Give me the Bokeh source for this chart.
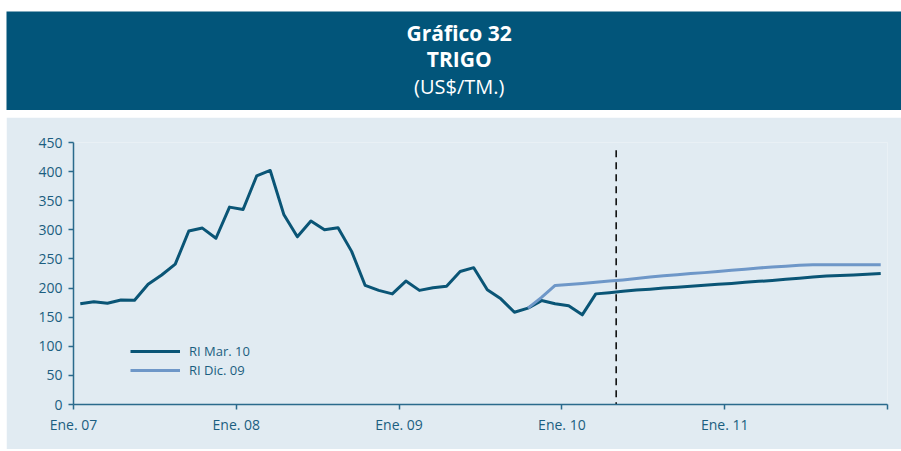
from bokeh.plotting import figure
from bokeh.layouts import column, row
from bokeh.models import FixedTicker, Legend, LegendItem, Spacer, Range1d
from bokeh.embed import file_html
from bokeh.resources import INLINE
from bokeh.core.properties import value

# ---------------- data ----------------
# monthly, index 0 = Ene. 2007 ... 59 = Dic. 2011
ri_mar10 = [173, 176.5, 174, 179.5, 179, 206.5, 222.5, 241, 298, 303, 285.5, 339,
            335, 392.5, 402, 326.5, 288, 315, 300, 303.5, 263, 204.5, 196, 190,
            212, 196, 200.5, 203, 228.5, 235, 197, 181.5, 158.5, 165.5, 178.5, 173,
            169.5, 154, 190, 192, 194.5, 196.5, 198, 200, 201.5, 203, 205, 206.5,
            208, 210, 211.5, 213, 215, 217, 219, 220.5, 221.5, 222.5, 223.7, 225]
ri_dic09_start = 33  # Oct. 2009
ri_dic09 = [165.5, 184, 204.5, 206, 208, 210, 212, 214, 216.5, 219, 221, 223, 225,
            226.5, 228.5, 230.5, 232.5, 234.5, 236, 237.5, 239, 240, 240, 240, 240,
            240, 240]
forecast_start = 40  # May. 2010 (dashed line)
series_names = ["RI Mar. 10", "RI Dic. 09"]
x_ticks = [0, 12, 24, 36, 48, 60]
x_tick_labels = ["Ene. 07", "Ene. 08", "Ene. 09", "Ene. 10", "Ene. 11", ""]
y_ticks = [0, 50, 100, 150, 200, 250, 300, 350, 400, 450]
title_lines = ["Gráfico 32", "TRIGO", "(US$/TM.)"]

# ---------------- styles ----------------
HEADER = "#02557A"
PANEL = "#E1EBF2"
DARK = "#0A5576"
LIGHT = "#6E97C8"
AXIS = "#2A6A8C"
TEXT = "#1B5E80"
FONT = "Open Sans"

LEFT_PAD = 6
W = 901 - LEFT_PAD
BL, BR = 67, 14   # chart frame borders

# header: frame covers the whole band, x in page pixels
h = figure(width=W, height=99, x_range=Range1d(LEFT_PAD, 901), y_range=Range1d(0, 99),
           output_backend="svg", toolbar_location=None, min_border=0)
h.axis.visible = False
h.grid.visible = False
h.outline_line_color = None
h.background_fill_color = HEADER
h.border_fill_color = HEADER
cx = 458.7
h.text(x=[cx], y=[78], text=[title_lines[0]], text_align="center", text_baseline="alphabetic",
       text_font=value(FONT), text_font_style="bold", text_font_size="21px", text_color="white")
h.text(x=[cx], y=[51.5], text=[title_lines[1]], text_align="center", text_baseline="alphabetic",
       text_font=value(FONT), text_font_style="bold", text_font_size="21px", text_color="white")
h.text(x=[cx], y=[24], text=[title_lines[2]], text_align="center", text_baseline="alphabetic",
       text_font=value(FONT), text_font_size="20px", text_color="white")

# chart
p = figure(width=W, height=332, x_range=Range1d(0, 60), y_range=Range1d(0, 450),
           output_backend="svg", toolbar_location=None,
           min_border_left=BL, min_border_right=BR, min_border_top=25, min_border_bottom=45)
p.background_fill_color = PANEL
p.border_fill_color = PANEL
p.outline_line_color = None
p.grid.visible = False

xm = [i + 0.5 for i in range(len(ri_mar10))]
xd = [ri_dic09_start + i + 0.5 for i in range(len(ri_dic09))]

r1 = p.line(xm, ri_mar10, line_color=DARK, line_width=3, line_join="round")
r2 = p.line(xd, ri_dic09, line_color=LIGHT, line_width=3, line_join="round")
p.segment(x0=[forecast_start], y0=[-8], x1=[forecast_start], y1=[445],
          line_color="black", line_width=1.5, line_dash="7 5")

for ax in (p.xaxis[0], p.yaxis[0]):
    ax.axis_line_color = AXIS
    ax.axis_line_width = 1.5
    ax.major_tick_line_color = AXIS
    ax.major_tick_line_width = 1.5
    ax.minor_tick_line_color = None
    ax.major_tick_in = 0
    ax.major_tick_out = 5
    ax.major_label_text_color = TEXT
    ax.major_label_text_font = FONT
    ax.major_label_text_font_size = "14px"

p.xaxis.ticker = FixedTicker(ticks=x_ticks)
p.xaxis.major_label_overrides = {t: l for t, l in zip(x_ticks, x_tick_labels)}
p.xaxis.major_label_standoff = 5
p.yaxis.ticker = FixedTicker(ticks=y_ticks)
p.yaxis.major_label_standoff = 6

legend = Legend(items=[LegendItem(label=series_names[0], renderers=[r1]),
                       LegendItem(label=series_names[1], renderers=[r2])],
                location=(57, 25), orientation="vertical",
                glyph_width=50, glyph_height=16, label_height=16, spacing=1,
                padding=0, margin=0, label_standoff=9,
                border_line_color=None, background_fill_alpha=0,
                label_text_font=FONT, label_text_font_size="13px", label_text_color=TEXT)
p.add_layout(legend, "center")

layout = column(Spacer(height=11, width=901),
                row(Spacer(width=LEFT_PAD, height=99), h),
                Spacer(height=7, width=901),
                row(Spacer(width=LEFT_PAD, height=332), p),
                spacing=0)

open("out.html", "w").write(file_html(layout, INLINE))
